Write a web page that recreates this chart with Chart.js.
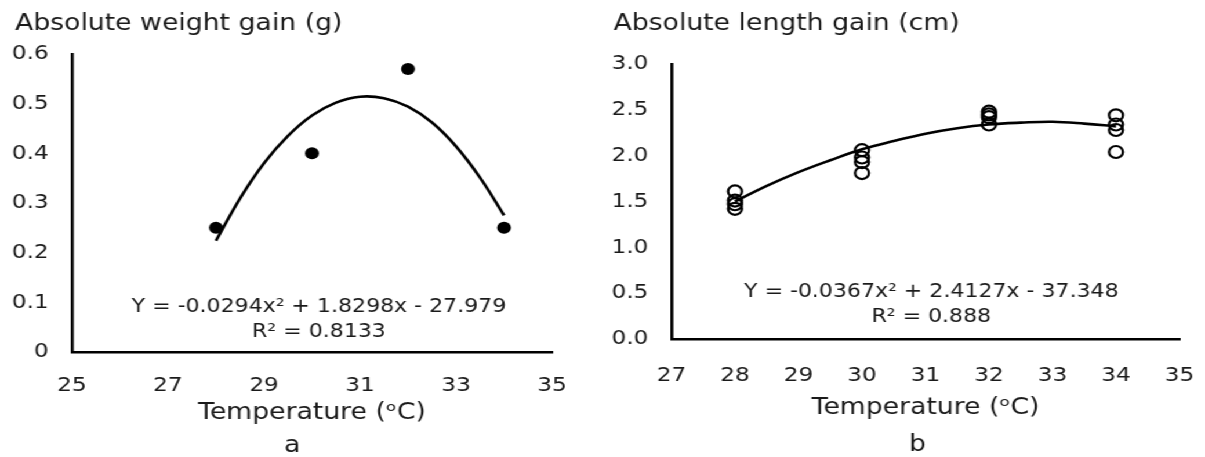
<!DOCTYPE html>
<html><head><meta charset="utf-8">
<script src="https://cdn.jsdelivr.net/npm/chart.js@4/dist/chart.umd.min.js"></script>
<style>
html,body{margin:0;padding:0;background:#fff;overflow:hidden;}
#outer{width:1205px;height:457px;overflow:hidden;background:#fff;}
#wrap{position:relative;width:1039px;height:457px;transform:scaleX(1.1598);transform-origin:0 0;}
.box{position:absolute;top:0;height:457px;}
#boxA{left:0;width:517px;}
#boxB{left:517px;width:522px;}
</style></head><body>
<div id="outer"><div id="wrap">
  <div class="box" id="boxA"><canvas id="cA"></canvas></div>
  <div class="box" id="boxB"><canvas id="cB"></canvas></div>
</div></div>
<script>
// ---- Panel a: absolute weight gain ----
const tempA = [28, 30, 32, 34];
const weightGain = [0.25, 0.40, 0.57, 0.25];
const trendTempA = [28, 28.5, 29, 29.5, 30, 30.5, 31, 31.5, 32, 32.5, 33, 33.5, 34];
const trendWeight = [0.224, 0.309, 0.380, 0.435, 0.476, 0.502, 0.514, 0.511, 0.494, 0.462, 0.414, 0.351, 0.275];
const xTicksA = ['25', '27', '29', '31', '33', '35'];
const yTicksA = ['0', '0.1', '0.2', '0.3', '0.4', '0.5', '0.6'];
const titleA = 'Absolute weight gain (g)';
const eqA = ['Y = -0.0294x² + 1.8298x - 27.979', 'R² = 0.8133'];

// ---- Panel b: absolute length gain ----
const tempB = [28, 28, 28, 28, 30, 30, 30, 30, 32, 32, 32, 32, 34, 34, 34, 34];
const lengthGain = [1.61, 1.51, 1.47, 1.42, 2.06, 1.98, 1.93, 1.81, 2.48, 2.45, 2.42, 2.34, 2.44, 2.34, 2.28, 2.04];
const trendTempB = [28, 28.5, 29, 29.5, 30, 30.5, 31, 31.5, 32, 32.5, 33, 33.5, 34];
const trendLength = [1.50, 1.67, 1.82, 1.95, 2.07, 2.16, 2.24, 2.30, 2.34, 2.36, 2.37, 2.35, 2.32];
const xTicksB = ['27', '28', '29', '30', '31', '32', '33', '34', '35'];
const yTicksB = ['0.0', '0.5', '1.0', '1.5', '2.0', '2.5', '3.0'];
const titleB = 'Absolute length gain (cm)';
const eqB = ['Y = -0.0367x² + 2.4127x - 37.348', 'R² = 0.888'];

const xTitle = 'Temperature (ᵒC)';
const FONT = '"DejaVu Sans", Verdana, sans-serif';
const TXT = '#1a1a1a';

const textPlugin = {
  id: 'freeText',
  afterDraw(chart, args, opts) {
    const ctx = chart.ctx;
    ctx.save();
    (opts.items || []).forEach(it => {
      ctx.font = it.size + 'px ' + FONT;
      ctx.fillStyle = TXT;
      ctx.textAlign = it.align || 'center';
      ctx.textBaseline = 'middle';
      ctx.fillText(it.text, it.x, it.y);
    });
    ctx.restore();
  }
};

function pts(xs, ys) { return xs.map((x, i) => ({x: x, y: ys[i]})); }

function makeChart(id, cfg) {
  return new Chart(document.getElementById(id), {
    type: 'scatter',
    data: { datasets: cfg.datasets },
    plugins: [textPlugin],
    options: {
      responsive: true,
      maintainAspectRatio: false,
      animation: false,
      events: [],
      layout: { padding: cfg.padding },
      plugins: {
        legend: { display: false },
        tooltip: { enabled: false },
        title: { display: false },
        freeText: { items: cfg.texts }
      },
      scales: {
        x: {
          type: 'linear', min: cfg.xMin, max: cfg.xMax,
          grid: { display: false, drawTicks: false },
          border: { display: true, color: '#000', width: 2.6 },
          ticks: {
            stepSize: cfg.xStep, padding: cfg.xTickPad, color: TXT,
            font: { family: FONT, size: 20 },
            maxRotation: 0, autoSkip: false,
            callback: (v, i) => cfg.xLabels[i]
          },
          title: {
            display: true, text: xTitle, color: TXT,
            font: { family: FONT, size: 23 },
            padding: { top: 0, bottom: cfg.xTitlePad }
          },
          afterFit: s => { s.height = cfg.xHeight; s.paddingLeft = 0; s.paddingRight = 0; }
        },
        y: {
          type: 'linear', min: cfg.yMin, max: cfg.yMax,
          grid: { display: false, drawTicks: false },
          border: { display: true, color: '#000', width: 2.6 },
          ticks: {
            stepSize: cfg.yStep, padding: 20, color: TXT,
            font: { family: FONT, size: 20 },
            autoSkip: false,
            callback: (v, i) => cfg.yLabels[i]
          },
          afterFit: s => { s.width = cfg.yWidth; s.paddingTop = 0; s.paddingBottom = 0; }
        }
      }
    }
  });
}

makeChart('cA', {
  padding: { left: 0, top: 54, right: 41, bottom: 0 },
  xMin: 25, xMax: 35, xStep: 2, yMin: 0, yMax: 0.6, yStep: 0.1,
  xLabels: xTicksA, yLabels: yTicksA,
  xHeight: 105, yWidth: 62, xTickPad: 22, xTitlePad: 30,
  datasets: [
    { data: pts(trendTempA, trendWeight), showLine: true, tension: 0.4,
      borderColor: '#000', borderWidth: 2.6, pointRadius: 0, fill: false },
    { data: pts(tempA, weightGain), showLine: false,
      pointRadius: 6, pointBackgroundColor: '#000', pointBorderColor: '#000', pointBorderWidth: 0 }
  ],
  texts: [
    { text: titleA, x: 13, y: 24, size: 23, align: 'left' },
    { text: eqA[0], x: 275, y: 307, size: 19 },
    { text: eqA[1], x: 275, y: 332, size: 19 },
    { text: 'a', x: 252, y: 446, size: 23 }
  ]
});

makeChart('cB', {
  padding: { left: 0, top: 64, right: 22, bottom: 0 },
  xMin: 27, xMax: 35, xStep: 1, yMin: 0, yMax: 3, yStep: 0.5,
  xLabels: xTicksB, yLabels: yTicksB,
  xHeight: 118, yWidth: 62, xTickPad: 25, xTitlePad: 35,
  datasets: [
    { data: pts(trendTempB, trendLength), showLine: true, tension: 0.4,
      borderColor: '#000', borderWidth: 2.6, pointRadius: 0, fill: false },
    { data: pts(tempB, lengthGain), showLine: false,
      pointRadius: 6, pointBackgroundColor: 'rgba(0,0,0,0)', pointBorderColor: '#000', pointBorderWidth: 2.2 }
  ],
  texts: [
    { text: titleB, x: 12, y: 24, size: 23, align: 'left' },
    { text: eqB[0], x: 286, y: 292, size: 19 },
    { text: eqB[1], x: 286, y: 317, size: 19 },
    { text: 'b', x: 274, y: 445, size: 23 }
  ]
});
</script>
</body></html>
